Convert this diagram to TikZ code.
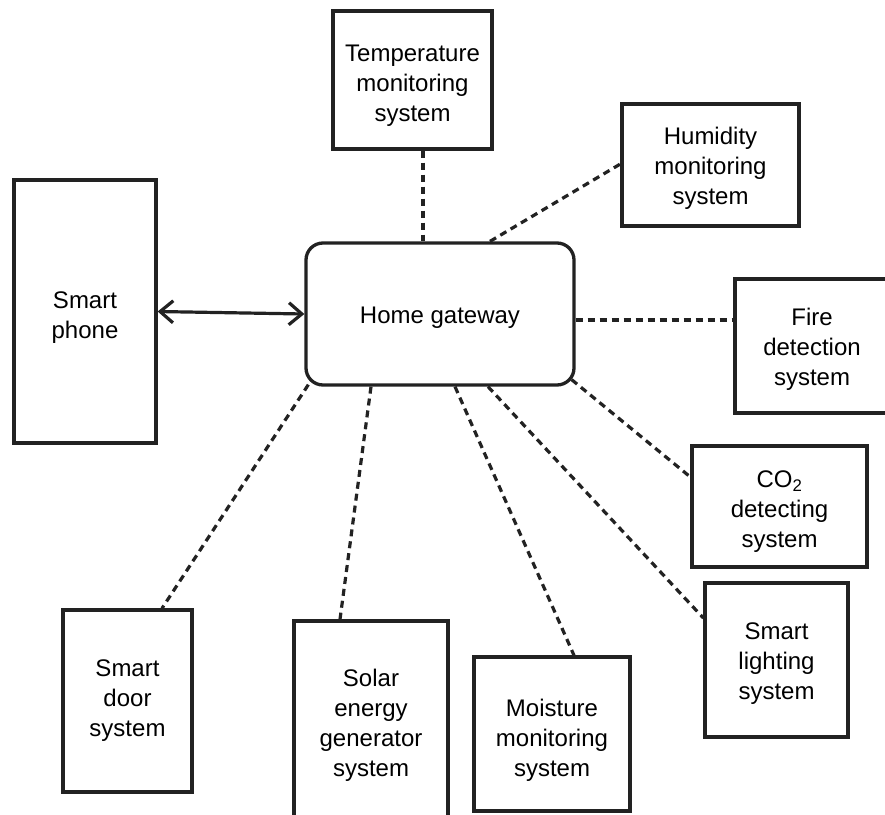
\documentclass[tikz,border=0pt]{standalone}
\usepackage{fontspec}
\setmainfont{Liberation Sans}
\usetikzlibrary{arrows.meta}
\definecolor{ink}{HTML}{222222}
\tikzset{
  box/.style={draw=ink, line width=3.3pt, rectangle, inner sep=0pt},
  gwbox/.style={box, rounded corners=17pt},
  lbl/.style={inner sep=0pt, align=center, text=black, font=\fontsize{24}{30}\selectfont},
  conn/.style={draw=ink, line width=3.2pt, dash pattern=on 7pt off 5pt},
  link/.style={draw=ink, line width=3.2pt, {Straight Barb[length=13pt,width=22pt]}-{Straight Barb[length=13pt,width=22pt]}}
}
\begin{document}
\begin{tikzpicture}[x=1pt,y=-1pt]
\path[use as bounding box, clip] (0,0) rectangle (885,814);
\fill[white] (0,0) rectangle (885,814);

\node[box, minimum width=159pt, minimum height=138pt,
  label={[lbl,yshift=-6pt]center:Temperature\\monitoring\\system}] (temp) at (412.5,80) {};
\node[box, minimum width=177pt, minimum height=122pt,
  label={[lbl,yshift=-3pt]center:Humidity\\monitoring\\system}] (humid) at (710.5,165) {};
\node[box, minimum width=142pt, minimum height=263pt,
  label={[lbl,yshift=-6pt]center:Smart\\phone}] (phone) at (85,311.5) {};
\node[gwbox, minimum width=268pt, minimum height=142pt,
  label={[lbl,yshift=-4pt]center:Home gateway}] (gw) at (440,314) {};
\node[box, minimum width=154pt, minimum height=134pt,
  label={[lbl,yshift=-3pt]center:Fire\\detection\\system}] (fire) at (812,346) {};
\node[box, minimum width=175pt, minimum height=121pt,
  label={[lbl,yshift=-5pt]center:CO\textsubscript{2}\\detecting\\system}] (co2) at (779.5,506.5) {};
\node[box, minimum width=143pt, minimum height=154pt,
  label={[lbl,yshift=-4pt]center:Smart\\lighting\\system}] (light) at (776.5,660) {};
\node[box, minimum width=156pt, minimum height=154pt,
  label={[lbl,yshift=-6pt]center:Moisture\\monitoring\\system}] (moist) at (552,734) {};
\node[box, minimum width=129pt, minimum height=182pt,
  label={[lbl]center:Smart\\door\\system}] (door) at (127.5,701) {};
\node[box, minimum width=154pt, minimum height=208pt,
  label={[lbl]center:Solar\\energy\\generator\\system}] (solar) at (371,725) {};

\draw[link] (phone.east) -- (gw.west);

\draw[conn] ([xshift=10.5pt]temp.south) -- ([xshift=-17pt]gw.north);
\draw[conn] ([xshift=50pt]gw.north) -- ([yshift=1pt]humid.west);
\draw[conn] ([yshift=-6pt]gw.east) -- ([yshift=26pt]fire.west);
\draw[conn] ([xshift=-4pt,yshift=7pt]gw.south east) -- ([yshift=29.5pt]co2.west);
\draw[conn] ([xshift=48pt]gw.south) -- ([yshift=42pt]light.west);
\draw[conn] ([xshift=15pt]gw.south) -- ([xshift=22pt]moist.north);
\draw[conn] ([xshift=-69pt]gw.south) -- ([xshift=-31pt]solar.north);
\draw[conn] ([xshift=4pt,yshift=2pt]gw.south west) -- ([xshift=34.5pt]door.north);
\end{tikzpicture}
\end{document}
